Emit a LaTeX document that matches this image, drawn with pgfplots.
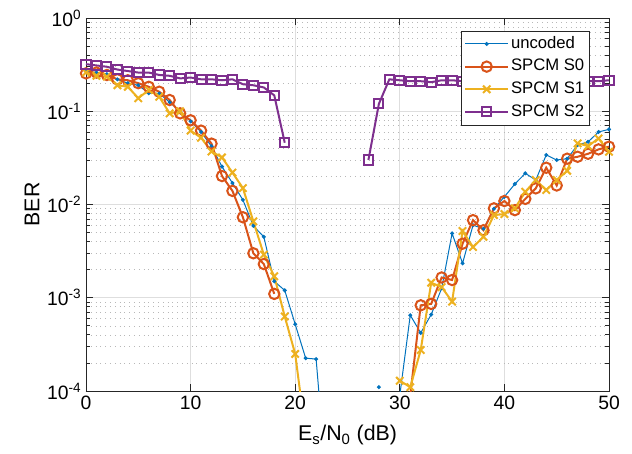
\documentclass[border=0pt]{standalone}
\usepackage{fontspec}
\setmainfont{Liberation Sans}
\usepackage{pgfplots}
\pgfplotsset{compat=1.18}
\definecolor{mblue}{rgb}{0,0.447,0.741}
\definecolor{morange}{rgb}{0.850,0.325,0.098}
\definecolor{myellow}{rgb}{0.929,0.694,0.125}
\definecolor{mpurple}{rgb}{0.494,0.184,0.556}
\begin{document}
\begin{tikzpicture}
\begin{axis}[
  scale only axis, width=392.25pt, height=279.75pt,
  xmin=0, xmax=50, ymin=1e-4, ymax=1, ymode=log,
  xtick={0,10,...,50},
  ytick={1e-4,1e-3,1e-2,1e-1,1},
  yticklabels={10\textsuperscript{-4},10\textsuperscript{-3},10\textsuperscript{-2},10\textsuperscript{-1},10\textsuperscript{0}},
  /pgf/number format/assume math mode=true,
  ticklabel style={font=\fontsize{14.5}{16}\selectfont},
  xmajorgrids, ymajorgrids, yminorgrids,
  major grid style={black!13, line width=0.6pt},
  minor grid style={black!28, dash pattern=on 0.6pt off 3pt, line width=0.5pt},
  axis line style={black!85, line width=0.6pt},
  every tick/.style={black!85, line width=0.6pt},
  major tick length=5pt, minor tick length=3pt,
  xlabel={E\textsubscript{s}/N\textsubscript{0} (dB)},
  ylabel={BER},
  label style={font=\fontsize{16}{18}\selectfont},
  xlabel style={at={(axis description cs:0.5,-0.118)}, anchor=center},
  ylabel style={at={(axis description cs:-0.103,0.5)}, anchor=center},
  unbounded coords=jump,
  legend cell align=left,
  legend style={at={(0.962,0.966)}, anchor=north east, draw=black!85,
    font=\fontsize{12.5}{14}\selectfont, inner sep=2pt,
    nodes={inner sep=1.5pt, text height=9.5pt, text depth=3pt}, row sep=1.5pt},
  legend image code/.code={\draw[mark repeat=2,mark phase=2] plot coordinates {(0pt,0pt) (16pt,0pt) (32pt,0pt)};},
]
% uncoded
\addplot[mblue, line width=0.75pt, mark=*, mark size=1.1pt] coordinates {
(0,0.27) (1,0.26) (2,0.25) (3,0.22) (4,0.20) (5,0.19) (6,0.156) (7,0.155) (8,0.125) (9,0.10)
(10,0.078) (11,0.060) (12,0.042) (13,0.0255) (14,0.017) (15,0.0112) (16,0.0059) (17,0.0045) (18,0.0015) (19,0.0012)
(20,5.2e-4) (21,2.25e-4) (22,2.2e-4) (23,1e-5) (24,nan) (25,nan) (26,nan) (27,nan) (28,1.1e-4) (29,nan)
(30,9e-5) (31,6.5e-4) (32,4.2e-4) (33,6.6e-4) (34,1.26e-3) (35,4.9e-3) (36,2.34e-3) (37,6.0e-3) (38,5.5e-3) (39,9.0e-3)
(40,0.0121) (41,0.0166) (42,0.0216) (43,0.0183) (44,0.034) (45,0.030) (46,0.031) (47,0.0435) (48,0.047) (49,0.060) (50,0.064)
};
\addlegendentry{uncoded}
% SPCM S0
\addplot[morange, line width=1.5pt, mark=o, mark size=3.9pt] coordinates {
(0,0.255) (1,0.26) (2,0.245) (3,0.22) (4,0.215) (5,0.20) (6,0.183) (7,0.162) (8,0.132) (9,0.095)
(10,0.080) (11,0.062) (12,0.045) (13,0.0202) (14,0.014) (15,0.0073) (16,0.0030) (17,0.0023) (18,0.0011) (19,nan)
(20,nan) (21,nan) (22,nan) (23,nan) (24,nan) (25,nan) (26,nan) (27,nan) (28,nan) (29,nan)
(30,nan) (31,9e-5) (32,8.3e-4) (33,8.6e-4) (34,1.65e-3) (35,1.55e-3) (36,3.8e-3) (37,6.8e-3) (38,5.3e-3) (39,9.1e-3)
(40,0.0109) (41,0.0087) (42,0.0115) (43,0.0149) (44,0.0248) (45,0.016) (46,0.031) (47,0.0325) (48,0.035) (49,0.039) (50,0.0417)
};
\addlegendentry{SPCM S0}
% SPCM S1
\addplot[myellow, line width=1.5pt, mark=x, mark size=3.9pt] coordinates {
(0,0.26) (1,0.24) (2,0.235) (3,0.19) (4,0.183) (5,0.138) (6,0.169) (7,0.143) (8,0.095) (9,0.10)
(10,0.062) (11,0.052) (12,0.037) (13,0.032) (14,0.022) (15,0.015) (16,0.0066) (17,0.0029) (18,0.0017) (19,6.3e-4)
(20,2.5e-4) (21,3.4e-5) (22,nan) (23,nan) (24,nan) (25,nan) (26,nan) (27,nan) (28,nan) (29,nan)
(30,1.29e-4) (31,1.1e-4) (32,2.75e-4) (33,1.45e-3) (34,1.3e-3) (35,9.1e-4) (36,5.2e-3) (37,3.5e-3) (38,4.5e-3) (39,7.7e-3)
(40,7.9e-3) (41,9.1e-3) (42,0.0137) (43,0.0183) (44,0.0143) (45,0.0183) (46,0.023) (47,0.0453) (48,0.0424) (49,0.051) (50,0.0368)
};
\addlegendentry{SPCM S1}
% SPCM S2
\addplot[mpurple, line width=1.5pt, mark=square, mark size=3.4pt] coordinates {
(0,0.32) (1,0.31) (2,0.30) (3,0.28) (4,0.27) (5,0.26) (6,0.26) (7,0.245) (8,0.24) (9,0.225)
(10,0.23) (11,0.22) (12,0.22) (13,0.215) (14,0.22) (15,0.195) (16,0.19) (17,0.18) (18,0.148) (19,0.046)
(20,nan) (21,nan) (22,nan) (23,nan) (24,nan) (25,nan) (26,nan) (27,0.030) (28,0.12) (29,0.22)
(30,0.215) (31,0.21) (32,0.21) (33,0.205) (34,0.215) (35,0.215) (36,0.21) (37,0.21) (38,0.205) (39,0.21)
(40,0.21) (41,0.215) (42,0.21) (43,0.21) (44,0.205) (45,0.21) (46,0.21) (47,0.215) (48,0.21) (49,0.21) (50,0.215)
};
\addlegendentry{SPCM S2}
\end{axis}
\path (current axis.south west) ++(-64.5pt,-46.5pt) coordinate (bbsw);
\path (current axis.north east) ++(17.25pt,13.5pt) coordinate (bbne);
\path (bbsw) rectangle (bbne);
\end{tikzpicture}
\end{document}
